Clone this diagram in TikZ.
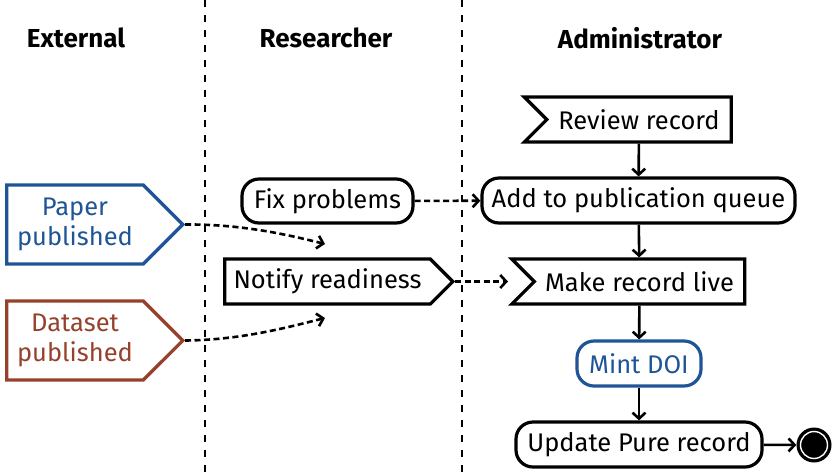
\documentclass[tikz,border=0pt]{standalone}
\usepackage{fontspec}
\setmainfont{Fira Sans}
\usetikzlibrary{shapes.symbols,arrows.meta}
\definecolor{pubblue}{HTML}{1F5597}
\definecolor{pubbrown}{HTML}{96412B}
\begin{document}
\begin{tikzpicture}[x=1pt,y=-1pt,
  font=\fontsize{25.5}{30}\selectfont,
  box/.style={draw,line width=3.2pt,rounded corners=17pt,minimum height=45pt,inner sep=0pt,anchor=center},
  recv/.style={draw,line width=3.2pt,signal,signal to=nowhere,signal from=west,signal pointer angle=90,minimum height=45pt,inner sep=0pt,anchor=center},
  send/.style={draw,line width=3.2pt,signal,signal to=east,signal pointer angle=90,minimum height=45pt,inner sep=0pt,anchor=center},
  flow/.style={line width=2.6pt,-{Straight Barb[length=6pt,width=13pt,line width=2.6pt]}},
  msg/.style={line width=2.6pt,dash pattern=on 6pt off 3.5pt,-{Straight Barb[length=6pt,width=13pt,line width=2.6pt]}},
  lane/.style={line width=1.8pt,dash pattern=on 7pt off 8pt},
  head/.style={font=\fontsize{26}{30}\selectfont\bfseries}
]
\useasboundingbox (0,0) rectangle (832,475);
% lanes
\coordinate (laneAtop) at (205,0);
\coordinate (laneAbot) at (205,475);
\coordinate (laneBtop) at (462,0);
\coordinate (laneBbot) at (462,475);
\draw[lane] (laneAtop) -- (laneAbot);
\draw[lane] (laneBtop) -- (laneBbot);
% headers
\node[head] (hExt) at (76,38) {External};
\node[head] (hRes) at (326,38) {Researcher};
\node[head] (hAdm) at (640,38) {Administrator};
% external
\node[send,draw=pubblue,text=pubblue,align=center,minimum width=176pt,minimum height=79pt] (paper) at (75,224.5) {Paper\\published};
\node[send,draw=pubbrown,text=pubbrown,align=center,minimum width=176pt,minimum height=79pt] (dataset) at (75,340.5) {Dataset\\published};
% researcher
\node[box,minimum width=171pt,minimum height=44pt] (fix) at (327.5,201) {Fix problems};
\node[send,minimum width=228pt] (notify) at (327.5,281.5) {Notify readiness};
\coordinate (paperEnd) at (325,244);
\coordinate (dataEnd) at (325,318);
% administrator
\node[recv,minimum width=207pt] (review) at (639,119.5) {Review record};
\node[box,minimum width=313pt] (queue) at (638.5,200.5) {Add to publication queue};
\node[recv,minimum width=233pt] (live) at (639.5,281.5) {Make record live};
\node[box,draw=pubblue,text=pubblue,minimum width=124pt] (mint) at (639,363.5) {Mint DOI};
\node[box,minimum width=246pt] (pure) at (639,444.5) {Update Pure record};
\node[circle,fill=black,minimum size=35pt,inner sep=0pt] (final) at (814,445) {};
\node[circle,draw=white,line width=1.4pt,minimum size=27pt,inner sep=0pt] (finalring) at (final.center) {};
% flows
\draw[flow] (review) -- (queue);
\draw[flow] (queue) -- (live);
\draw[flow] (live) -- (mint);
\draw[flow] (mint) -- (pure);
\draw[flow] (pure) -- (final);
% messages
\draw[msg] (fix) -- (queue);
\draw[msg,shorten >=24pt] (notify.east) -- (live.west);
\draw[msg] (paper.east) .. controls (240,224) and (285,234) .. (paperEnd);
\draw[msg] (dataset.east) .. controls (240,340) and (285,328) .. (dataEnd);
\end{tikzpicture}
\end{document}
